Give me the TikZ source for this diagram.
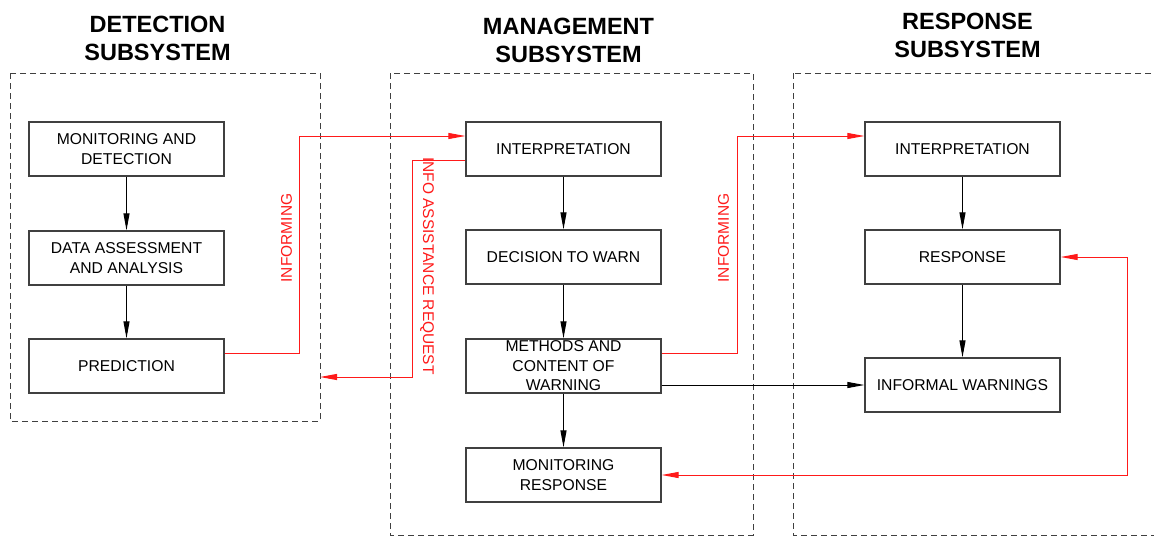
\documentclass[tikz,border=0pt]{standalone}
\usepackage{fontspec}
\setmainfont{Liberation Sans}
\usetikzlibrary{arrows.meta}
\definecolor{edgegray}{HTML}{404040}
\definecolor{flowred}{HTML}{FF1A1A}
\begin{document}
\begin{tikzpicture}[x=1pt,y=-1pt,
  stepbox/.style={draw=edgegray, line width=1.3pt, minimum width=195pt, minimum height=54pt,
    inner sep=2pt, align=center, font=\fontsize{15.7}{19.5}\selectfont},
  groupbox/.style={draw=edgegray, line width=1pt, dash pattern=on 6pt off 4pt},
  heading/.style={align=center, font=\fontsize{23.5}{28}\selectfont\bfseries},
  flow/.style={line width=1pt, -{Triangle[length=17pt,width=6pt]}},
  feed/.style={draw=flowred, line width=1pt, -{Triangle[length=17pt,width=6pt]}},
  feedlabel/.style={text=flowred, font=\fontsize{15.5}{19}\selectfont, inner sep=0pt}]
\useasboundingbox (0,0) rectangle (1154,536);
\clip (0,0) rectangle (1154,536);
\fill[white] (0,0) rectangle (1154,536);

% subsystem frames
\draw[groupbox] (10,73) rectangle (320,421);
\coordinate (detedge) at (320,377);
\draw[groupbox] (390,73) rectangle (753,535);
\draw[groupbox] (793,73) rectangle (1170,535);

% headings
\node[heading] (hdet) at (157.5,38.5) {DETECTION\\SUBSYSTEM};
\node[heading] (hman) at (568.5,40.5) {MANAGEMENT\\SUBSYSTEM};
\node[heading] (hres) at (967.5,35) {RESPONSE\\SUBSYSTEM};

% detection subsystem
\node[stepbox] (mon)  at (126.5,149) {MONITORING AND\\DETECTION};
\node[stepbox] (data) at (126.5,258) {DATA ASSESSMENT\\AND ANALYSIS};
\node[stepbox] (pred) at (126.5,366) {PREDICTION};

% management subsystem
\node[stepbox] (interpm) at (563.5,149) {INTERPRETATION};
\node[stepbox] (decide)  at (563.5,257) {DECISION TO WARN};
\node[stepbox] (methods) at (563.5,366) {METHODS AND\\CONTENT OF\\WARNING};
\node[stepbox] (monresp) at (563.5,475) {MONITORING\\RESPONSE};

% response subsystem
\node[stepbox] (interpr)  at (962.5,149) {INTERPRETATION};
\node[stepbox] (response) at (962.5,257) {RESPONSE};
\node[stepbox] (informal) at (962.5,385) {INFORMAL WARNINGS};

% internal flow
\draw[flow] (mon) -- (data);
\draw[flow] (data) -- (pred);
\draw[flow] (interpm) -- (decide);
\draw[flow] (decide) -- (methods);
\draw[flow] (methods) -- (monresp);
\draw[flow] (interpr) -- (response);
\draw[flow] (response) -- (informal);
\draw[flow] (methods.east |- informal.west) -- (informal.west);

% information links between subsystems
\draw[feed] ([yshift=13pt]pred.east) -- (299,353) -- (299,136) -- ([yshift=13pt]interpm.west);
\node[feedlabel, rotate=90] (inf1) at (286.5,238) {INFORMING};

\draw[feed] ([yshift=-11pt]interpm.west) -- (412,160) -- (412,377) -- (detedge);
\node[feedlabel, rotate=-90] (req) at (427,266) {INFO ASSISTANCE REQUEST};

\draw[feed] ([yshift=13pt]methods.east) -- (737,353) -- (737,136) -- ([yshift=13pt]interpr.west);
\node[feedlabel, rotate=90] (inf2) at (723.5,238) {INFORMING};

\draw[feed, {Triangle[length=17pt,width=6pt]}-{Triangle[length=17pt,width=6pt]}]
  (response.east) -- (1127,257) -- (1127,475) -- (monresp.east);
\end{tikzpicture}
\end{document}
